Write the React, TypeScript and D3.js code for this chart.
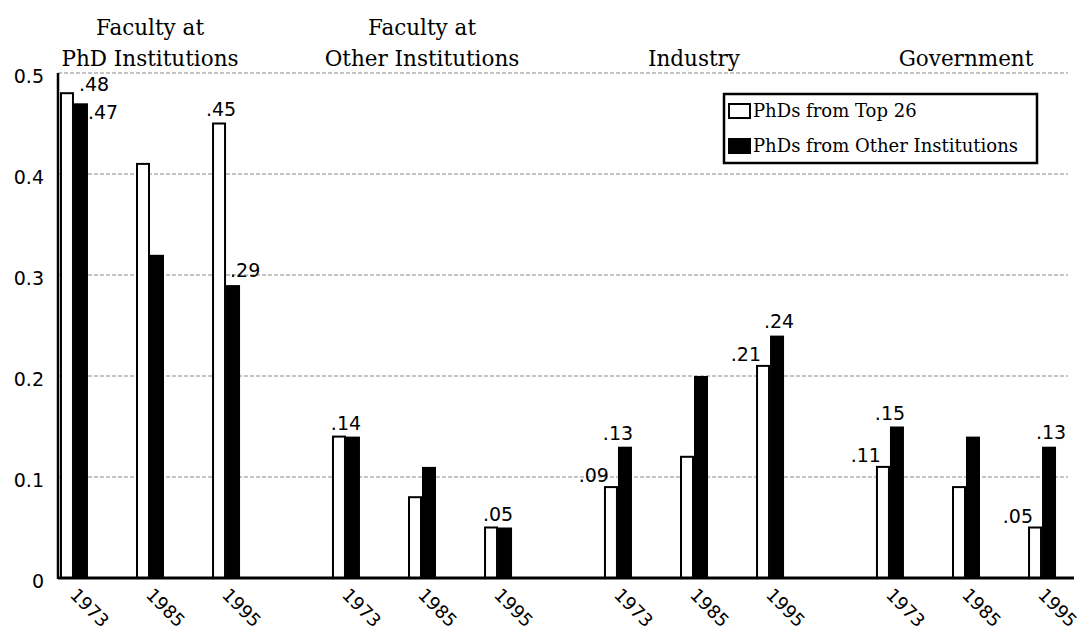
import React from 'react';
import * as d3 from 'd3';

// chart data
const groupTitles = [
  ['Faculty at', 'PhD Institutions'],
  ['Faculty at', 'Other Institutions'],
  ['Industry'],
  ['Government'],
];
const years = ['1973', '1985', '1995'];
const seriesNames = ['PhDs from Top 26', 'PhDs from Other Institutions'];
const top26 = [
  [0.48, 0.41, 0.45],
  [0.14, 0.08, 0.05],
  [0.09, 0.12, 0.21],
  [0.11, 0.09, 0.05],
];
const otherInst = [
  [0.47, 0.32, 0.29],
  [0.14, 0.11, 0.05],
  [0.13, 0.2, 0.24],
  [0.15, 0.14, 0.13],
];
const yTicks = [0, 0.1, 0.2, 0.3, 0.4, 0.5];
const yTickLabels = ['0', '0.1', '0.2', '0.3', '0.4', '0.5'];
// value labels: group index, year index, series (0 = top 26, 1 = other), text, placement
const valueLabels = [
  { g: 0, y: 0, s: 0, text: '.48', place: 'overNext' },
  { g: 0, y: 0, s: 1, text: '.47', place: 'beside' },
  { g: 0, y: 2, s: 0, text: '.45', place: 'top' },
  { g: 0, y: 2, s: 1, text: '.29', place: 'topRight' },
  { g: 1, y: 0, s: 1, text: '.14', place: 'pair' },
  { g: 1, y: 2, s: 1, text: '.05', place: 'pair' },
  { g: 2, y: 0, s: 0, text: '.09', place: 'left' },
  { g: 2, y: 0, s: 1, text: '.13', place: 'pair' },
  { g: 2, y: 2, s: 0, text: '.21', place: 'left' },
  { g: 2, y: 2, s: 1, text: '.24', place: 'top' },
  { g: 3, y: 0, s: 0, text: '.11', place: 'left' },
  { g: 3, y: 0, s: 1, text: '.15', place: 'pair' },
  { g: 3, y: 2, s: 0, text: '.05', place: 'left' },
  { g: 3, y: 2, s: 1, text: '.13', place: 'top' },
];

const W = 1092;
const H = 635;
const left = 58;
const barW = 14;
const serif = '"DejaVu Serif", serif';
const sans = '"DejaVu Sans", sans-serif';

export default function App() {
  const y = d3.scaleLinear().domain([0, 0.5]).range([578, 73]);
  const gx = d3
    .scaleBand()
    .domain(groupTitles.map((_, i) => String(i)))
    .range([left, 1058])
    .paddingInner(0.3235)
    .paddingOuter(0);
  const yx = d3.scalePoint().domain(years).range([0, gx.bandwidth()]).padding(0.21);

  const pairX = (g, yi) => gx(String(g)) + yx(years[yi]);
  const groupMid = g => gx(String(g)) + gx.bandwidth() / 2;
  const vals = [top26, otherInst];

  const barX = (g, yi, s) => (s === 0 ? pairX(g, yi) - barW : pairX(g, yi));

  const labelPos = l => {
    const v = vals[l.s][l.g][l.y];
    const x0 = barX(l.g, l.y, l.s);
    const top = y(v);
    switch (l.place) {
      case 'overNext':
        return { x: x0 + barW + 5, y: top - 2, anchor: 'start' };
      case 'beside':
        return { x: x0 + barW, y: top + 16, anchor: 'start' };
      case 'topRight':
        return { x: x0 + 4, y: top - 8, anchor: 'start' };
      case 'left':
        return { x: x0 + 5, y: top - 5, anchor: 'end' };
      case 'pair':
        return { x: pairX(l.g, l.y), y: top - 7, anchor: 'middle' };
      default:
        return { x: x0 + barW / 2 + 2, y: top - 8, anchor: 'middle' };
    }
  };

  return (
    <svg width={W} height={H} style={{ position: 'absolute', left: 0, top: 0, background: '#fff' }}>
      {/* gridlines */}
      {yTicks.slice(1).map(t => (
        <line
          key={t}
          x1={left}
          x2={1068}
          y1={y(t)}
          y2={y(t)}
          stroke="#8a8a8a"
          strokeWidth={1.1}
          strokeDasharray="4,2"
        />
      ))}

      {/* y tick labels */}
      {yTicks.map((t, i) => (
        <text
          key={t}
          x={44}
          y={y(t) + 3}
          textAnchor="end"
          dominantBaseline="central"
          fontFamily={sans}
          fontSize={19}
          fill="#000"
        >
          {yTickLabels[i]}
        </text>
      ))}

      {/* bars */}
      {groupTitles.map((_, g) =>
        years.map((yr, yi) => (
          <g key={g + '-' + yr}>
            <rect
              x={barX(g, yi, 0) + 1}
              y={y(top26[g][yi])}
              width={barW - 2}
              height={y(0) - y(top26[g][yi])}
              fill="#fff"
              stroke="#000"
              strokeWidth={2}
            />
            <rect
              x={barX(g, yi, 1)}
              y={y(otherInst[g][yi])}
              width={barW}
              height={y(0) - y(otherInst[g][yi])}
              fill="#000"
            />
          </g>
        ))
      )}

      {/* axes */}
      <line x1={left} x2={left} y1={y(0.5)} y2={y(0) + 1} stroke="#000" strokeWidth={2.5} />
      <line x1={left} x2={1074} y1={y(0)} y2={y(0)} stroke="#000" strokeWidth={3} />

      {/* year labels */}
      {groupTitles.map((_, g) =>
        years.map((yr, yi) => {
          const x = pairX(g, yi) - 5;
          const yy = 596;
          return (
            <text
              key={'yl' + g + yr}
              x={x}
              y={yy}
              transform={`rotate(45,${x},${yy})`}
              fontFamily={sans}
              fontSize={18}
              fill="#000"
            >
              {yr}
            </text>
          );
        })
      )}

      {/* value labels */}
      {valueLabels.map((l, i) => {
        const p = labelPos(l);
        return (
          <text key={'v' + i} x={p.x} y={p.y} textAnchor={p.anchor} fontFamily={sans} fontSize={19} fill="#000">
            {l.text}
          </text>
        );
      })}

      {/* group titles */}
      {groupTitles.map((lines, g) =>
        lines.map((line, li) => (
          <text
            key={'t' + g + li}
            x={groupMid(g)}
            y={66 - (lines.length - 1 - li) * 31}
            textAnchor="middle"
            fontFamily={serif}
            fontSize={21.5}
            fill="#000"
          >
            {line}
          </text>
        ))
      )}

      {/* legend */}
      <g>
        <rect x={724} y={94} width={313} height={69} fill="#fff" stroke="#000" strokeWidth={2.5} />
        {seriesNames.map((name, i) => (
          <g key={name}>
            <rect
              x={729}
              y={104 + i * 35}
              width={21}
              height={14}
              fill={i === 0 ? '#fff' : '#000'}
              stroke="#000"
              strokeWidth={2}
            />
            <text x={753} y={117 + i * 35} fontFamily={serif} fontSize={18} fill="#000">
              {name}
            </text>
          </g>
        ))}
      </g>
    </svg>
  );
}
